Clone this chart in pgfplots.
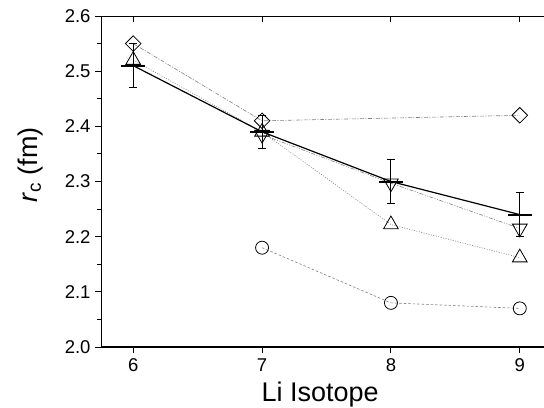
\documentclass[border=0pt]{standalone}
\usepackage{pgfplots}
\pgfplotsset{compat=1.18}
\usepackage{fontspec}
\setmainfont{Liberation Sans}

\begin{document}
\begin{tikzpicture}
\useasboundingbox (0,0) rectangle (544bp,408bp);
\pgfplotsset{rcbase/.style={scale only axis,width=451bp,height=331bp,at={(101bp,61bp)},anchor=south west,
  xmin=5.75,xmax=9.25,ymin=2.0,ymax=2.6,xtick={6,7,8,9},ytick={2.0,2.1,2.2,2.3,2.4,2.5,2.6},minor y tick num=1,
  axis line style={line width=1bp},major tick length=6bp,minor tick length=4bp,
  every tick/.style={line width=0.9bp,black}}}
% top/right ticks point inward
\begin{axis}[rcbase,tick align=inside,xtick pos=right,ytick pos=right,xticklabels={},yticklabels={}]
\end{axis}
\begin{axis}[rcbase,tick align=outside,xtick pos=left,ytick pos=left,
  ticklabel style={font=\fontsize{18.5bp}{22bp}\selectfont},
  /pgf/number format/.cd,fixed,fixed zerofill,precision=1,assume math mode=true,/pgfplots/.cd,
  xticklabel style={/pgf/number format/precision=0,yshift=-2bp},
  yticklabel style={xshift=-1bp},
  xlabel={Li Isotope},ylabel={\textit{r}\textsubscript{c} (fm)},
  label style={font=\fontsize{27bp}{31bp}\selectfont},
  xlabel style={at={(axis description cs:0.486,-0.145)},anchor=center},
  ylabel style={at={(axis description cs:-0.157,0.55)},anchor=center}]
% diamonds
\addplot[gray,line width=0.6bp,dash pattern=on 4bp off 1.5bp on 1bp off 1.5bp,mark=square,mark size=5.5bp,
  mark options={black,solid,rotate=45,line width=0.8bp,fill=none}] coordinates {(6,2.55) (7,2.41) (9,2.42)};
% up triangles
\addplot[gray,line width=0.6bp,dash pattern=on 1bp off 1.5bp,mark=triangle,mark size=8.5bp,
  mark options={black,solid,line width=0.8bp,fill=none}] coordinates {(6,2.52) (7,2.39) (8,2.222) (9,2.162)};
% down triangles
\addplot[gray,line width=0.6bp,dash pattern=on 4bp off 1.5bp on 1bp off 1.5bp on 1bp off 1.5bp,mark=triangle,mark size=8.5bp,
  mark options={black,solid,rotate=180,line width=0.8bp,fill=none}] coordinates {(7,2.385) (8,2.297) (9,2.215)};
% circles
\addplot[gray,line width=0.6bp,dash pattern=on 2.5bp off 2bp,mark=o,mark size=6.5bp,
  mark options={black,solid,line width=0.8bp}] coordinates {(7,2.18) (8,2.08) (9,2.07)};
% central values with errors
\addplot[black,line width=1.2bp,mark=-,mark size=12bp,mark options={line width=2bp},
  error bars/.cd,y dir=both,y explicit,error bar style={line width=0.9bp,black},
  error mark options={rotate=90,mark size=4bp,line width=0.9bp,black}]
  coordinates {(6,2.51) +- (0,0.04) (7,2.39) +- (0,0.03) (8,2.30) +- (0,0.04) (9,2.24) +- (0,0.04)};
\end{axis}
\end{tikzpicture}
\end{document}
